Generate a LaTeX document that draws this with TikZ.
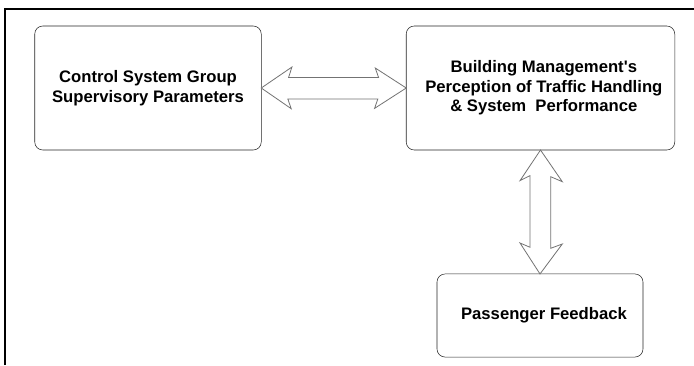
\documentclass[tikz,border=0pt]{standalone}
\usepackage{fontspec}
\setmainfont{Liberation Sans}[Ligatures=TeXOff]
\usetikzlibrary{positioning,calc}

\tikzset{
    box/.style={draw=black!85, rounded corners=6pt, thin, align=center,
        inner sep=0pt, outer sep=0pt, font=\bfseries\fontsize{12.5}{14.6}\selectfont},
    dblarrow/.style={draw=black!55, fill=white, line width=0.6pt, line join=miter}
}

\begin{document}
\begin{tikzpicture}[x=0.75pt, y=-0.75pt]
    \useasboundingbox (0,0) rectangle (694,365);

    % frame
    \draw[line width=1.6pt] (5,365) -- (5,9) -- (694,9);

    % boxes
    \node[box, minimum width=169.9pt, minimum height=93pt] (ctrl) at (148,88)
        {Control System Group\\Supervisory Parameters};
    \node[box, minimum width=201.4pt, minimum height=93pt] (mgmt) at (540.5,88)
        {\hspace*{5pt}Building Management's\\\hspace*{5pt}Perception of Traffic Handling\\\hspace*{5pt}\&~System~~Performance};
    \node[box, minimum width=154.5pt, minimum height=62.3pt] (feed) at (540,315.5)
        {\hspace*{6pt}Passenger Feedback};

    % ctrl <-> mgmt
    \draw[dblarrow] (ctrl.east) -- ++(30.7,-21) -- ++(-3.4,10.4) -- ++(90,0)
        -- ++(-3.3,-9.4) -- (mgmt.west) -- ++(-31.7,20.4) -- ++(3.3,-9.4)
        -- ++(-90,0) -- ++(3.4,9.7) -- cycle;

    % mgmt <-> feedback
    \draw[dblarrow] (mgmt.south) -- ++(21.8,31.7) -- ++(-11.6,-5) -- ++(0,71.6)
        -- ++(11.6,-4.3) -- (feed.north) -- ++(-20,-31) -- ++(10,4.3)
        -- ++(0,-71.6) -- ++(-10,5) -- cycle;
\end{tikzpicture}
\end{document}
